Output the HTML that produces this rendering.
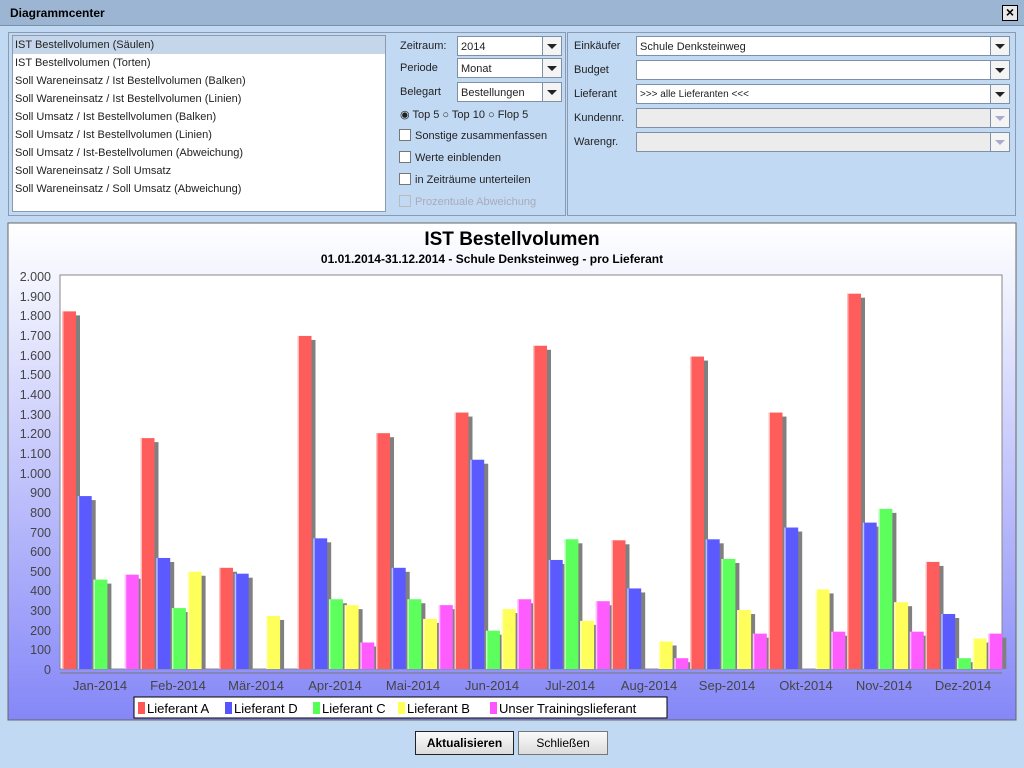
<!DOCTYPE html>
<html><head><meta charset="utf-8"><style>
*{box-sizing:border-box}
body{margin:0;width:1024px;height:768px;overflow:hidden;background:#c2d9f3;font-family:"Liberation Sans",Arial,sans-serif;font-size:11px;color:#000;position:relative}
.a{position:absolute}
.title{left:0;top:0;width:1024px;height:26px;background:#9cb5d3;border-bottom:1px solid #7a8fa8;font-weight:bold;font-size:12px;padding:6px 10px}
.close{right:6px;top:5px;width:16px;height:16px;border:1px solid #000;background:#e8e8e8;font-size:14px;line-height:13px;text-align:center;font-weight:bold}
.list{left:12px;top:35px;width:374px;height:177px;background:#fff;border:1px solid #8a9ab0}
.list div{height:18px;line-height:18px;padding-left:2px;color:#222}
.sel{background:#c5d6ea}
.lbl{color:#222}
.combo{height:20px;background:#fff;border:1px solid #7f8fa5;padding:4px 3px 0;color:#222}
.arr{position:absolute;right:0;top:0;width:19px;height:18px;border-left:1px solid #7f8fa5;background:#f4f4f4}
.arr:after{content:"";position:absolute;left:4px;top:7px;border-left:5px solid transparent;border-right:5px solid transparent;border-top:5px solid #222}
.dis{background:#ececec}
.dis .arr:after{border-top-color:#aac}
.cb{width:12px;height:12px;border:1px solid #777;background:#fff}
.btn{height:24px;border:1px solid #777;background:linear-gradient(#fafafa,#dcdcdc);text-align:center;line-height:22px;font-size:12px}
</style></head><body>
<div class="a title">Diagrammcenter</div>
<div class="a close">×</div>
<div class="a" style="left:8px;top:32px;width:558px;height:184px;border:1px solid #8a9ab0"></div>
<div class="a" style="left:567px;top:32px;width:449px;height:184px;border:1px solid #8a9ab0"></div>
<div class="a list">
<div class="sel">IST Bestellvolumen (Säulen)</div>
<div>IST Bestellvolumen (Torten)</div>
<div>Soll Wareneinsatz / Ist Bestellvolumen (Balken)</div>
<div>Soll Wareneinsatz / Ist Bestellvolumen (Linien)</div>
<div>Soll Umsatz / Ist Bestellvolumen (Balken)</div>
<div>Soll Umsatz / Ist Bestellvolumen (Linien)</div>
<div>Soll Umsatz / Ist-Bestellvolumen (Abweichung)</div>
<div>Soll Wareneinsatz / Soll Umsatz</div>
<div>Soll Wareneinsatz / Soll Umsatz (Abweichung)</div>
</div>
<div class="a lbl" style="left:400px;top:40px">Zeitraum:</div>
<div class="a combo" style="left:457px;top:36px;width:105px">2014<span class="arr"></span></div>
<div class="a lbl" style="left:400px;top:62px">Periode</div>
<div class="a combo" style="left:457px;top:58px;width:105px">Monat<span class="arr"></span></div>
<div class="a lbl" style="left:400px;top:86px">Belegart</div>
<div class="a combo" style="left:457px;top:82px;width:105px">Bestellungen<span class="arr"></span></div>
<div class="a lbl" style="left:400px;top:108px">◉ Top 5 ○ Top 10 ○ Flop 5</div>
<div class="a cb" style="left:399px;top:129px"></div><div class="a lbl" style="left:415px;top:130px">Sonstige zusammenfassen</div>
<div class="a cb" style="left:399px;top:151px"></div><div class="a lbl" style="left:415px;top:152px">Werte einblenden</div>
<div class="a cb" style="left:399px;top:173px"></div><div class="a lbl" style="left:415px;top:174px">in Zeiträume unterteilen</div>
<div class="a cb" style="left:399px;top:195px;border-color:#bbb;background:transparent"></div><div class="a" style="left:415px;top:196px;color:#aab">Prozentuale Abweichung</div>
<div class="a lbl" style="left:574px;top:40px">Einkäufer</div>
<div class="a combo" style="left:636px;top:36px;width:374px">Schule Denksteinweg<span class="arr"></span></div>
<div class="a lbl" style="left:574px;top:64px">Budget</div>
<div class="a combo" style="left:636px;top:60px;width:374px"><span class="arr"></span></div>
<div class="a lbl" style="left:574px;top:88px">Lieferant</div>
<div class="a combo" style="left:636px;top:84px;width:374px;font-size:10px">&gt;&gt;&gt; alle Lieferanten &lt;&lt;&lt;<span class="arr"></span></div>
<div class="a lbl" style="left:574px;top:112px">Kundennr.</div>
<div class="a combo dis" style="left:636px;top:108px;width:374px"><span class="arr"></span></div>
<div class="a lbl" style="left:574px;top:136px">Warengr.</div>
<div class="a combo dis" style="left:636px;top:132px;width:374px"><span class="arr"></span></div>

<svg class="a" style="left:0;top:0" width="1024" height="768" xmlns="http://www.w3.org/2000/svg" font-family="Liberation Sans, Arial, sans-serif">
<defs><linearGradient id="g" x1="0" y1="0" x2="0" y2="1"><stop offset="0" stop-color="#ffffff"/><stop offset="0.15" stop-color="#eef0fe"/><stop offset="1" stop-color="#8587f8"/></linearGradient></defs>
<rect x="8" y="223" width="1008" height="497" fill="url(#g)" stroke="#666"/>
<rect x="60" y="275" width="942" height="394" fill="#fff" stroke="#888"/>
<text x="512" y="245" text-anchor="middle" font-size="19" font-weight="bold">IST Bestellvolumen</text>
<text x="492" y="263" text-anchor="middle" font-size="12" font-weight="bold">01.01.2014-31.12.2014 - Schule Denksteinweg - pro Lieferant</text>
<g id="bars"></g>
<line x1="60" y1="673" x2="1002" y2="673" stroke="#777"/>
<g font-size="12.5" fill="#444" text-anchor="end">
<text x="51" y="674">0</text><text x="51" y="654">100</text><text x="51" y="635">200</text><text x="51" y="615">300</text><text x="51" y="595">400</text><text x="51" y="576">500</text><text x="51" y="556">600</text><text x="51" y="537">700</text><text x="51" y="517">800</text><text x="51" y="497">900</text><text x="51" y="478">1.000</text><text x="51" y="458">1.100</text><text x="51" y="438">1.200</text><text x="51" y="419">1.300</text><text x="51" y="399">1.400</text><text x="51" y="379">1.500</text><text x="51" y="360">1.600</text><text x="51" y="340">1.700</text><text x="51" y="320">1.800</text><text x="51" y="301">1.900</text><text x="51" y="281">2.000</text>
</g>
<g font-size="13" fill="#444" text-anchor="middle">
<text x="100" y="690">Jan-2014</text><text x="178" y="690">Feb-2014</text><text x="256" y="690">Mär-2014</text><text x="335" y="690">Apr-2014</text><text x="413" y="690">Mai-2014</text><text x="492" y="690">Jun-2014</text><text x="570" y="690">Jul-2014</text><text x="649" y="690">Aug-2014</text><text x="727" y="690">Sep-2014</text><text x="806" y="690">Okt-2014</text><text x="884" y="690">Nov-2014</text><text x="963" y="690">Dez-2014</text>
</g>
<rect x="134" y="697" width="533" height="21" fill="#fff" stroke="#000"/>
<g font-size="13">
<rect x="138" y="702" width="7" height="12" fill="#ff5555"/><text x="147" y="713">Lieferant A</text>
<rect x="225" y="702" width="7" height="12" fill="#5555ff"/><text x="234" y="713">Lieferant D</text>
<rect x="313" y="702" width="7" height="12" fill="#55ff55"/><text x="322" y="713">Lieferant C</text>
<rect x="398" y="702" width="7" height="12" fill="#ffff55"/><text x="407" y="713">Lieferant B</text>
<rect x="490" y="702" width="7" height="12" fill="#ff55ff"/><text x="499" y="713">Unser Trainingslieferant</text>
</g>
</svg>
<div class="a btn" style="left:415px;top:731px;width:99px;font-weight:bold;border-color:#222">Aktualisieren</div>
<div class="a btn" style="left:518px;top:731px;width:90px">Schließen</div>
<script>
var d=[[1820,880,455,0,480],[1175,565,310,495,0],[515,485,0,270,0],[1695,665,355,325,135],[1200,515,355,255,325],[1305,1065,195,305,355],[1645,555,660,245,345],[655,410,0,140,55],[1590,660,560,300,180],[1305,720,0,405,190],[1910,745,815,340,190],[545,280,55,155,180]];
var c=["#ff5c5c","#5a5aff","#5cff5c","#ffff5c","#ff5cff"];
var s="";
for(var i=0;i<12;i++)for(var j=0;j<5;j++){var v=d[i][j];if(!v)continue;var h=v*0.1965,x=62+i*78.5+j*15.7,y=669-h;
s+='<rect x="'+(x+4)+'" y="'+(y+4)+'" width="14" height="'+Math.max(0,h-4)+'" fill="#808080"/>';
s+='<rect x="'+x+'" y="'+y+'" width="14" height="'+h+'" fill="'+c[j]+'"/>';
s+='<rect x="'+x+'" y="'+y+'" width="1.5" height="'+h+'" fill="#fff" opacity="0.6"/>';}
document.getElementById("bars").innerHTML=s;
</script>
</body></html>
